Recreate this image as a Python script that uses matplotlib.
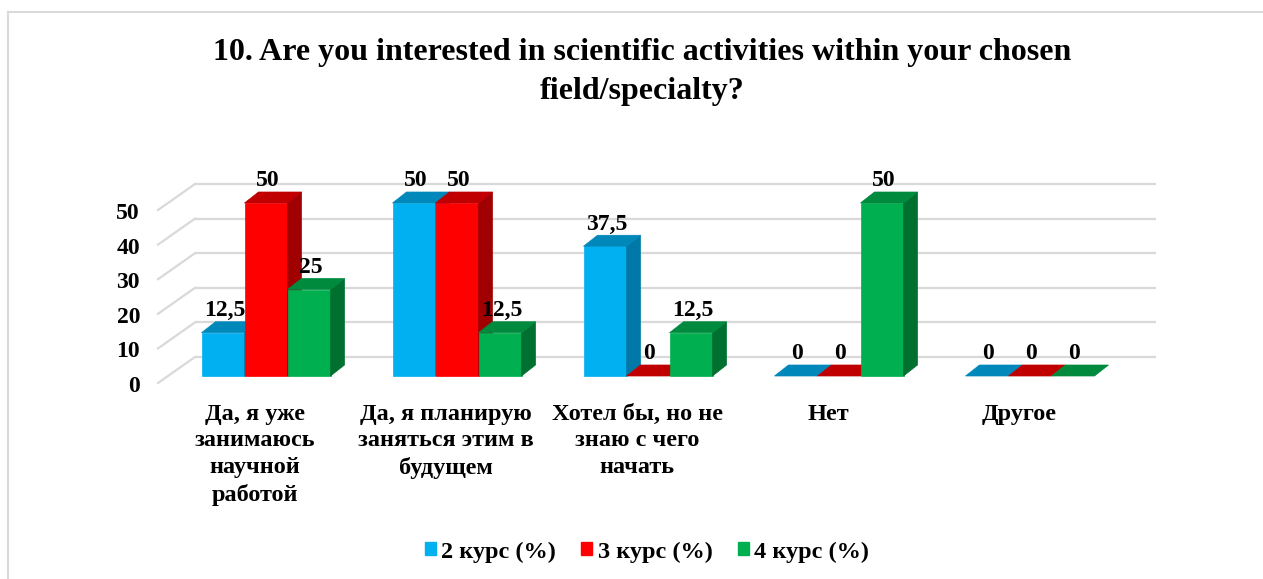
import matplotlib

matplotlib.use("Agg")
import matplotlib.pyplot as plt
from matplotlib.lines import Line2D
from matplotlib.patches import Patch, Polygon

plt.rcParams["font.family"] = ["Liberation Serif", "DejaVu Serif"]
plt.rcParams["font.weight"] = "bold"

TITLE = ("10. Are you interested in scientific activities within your chosen\n"
         "field/specialty?")
categories = [
    "Да, я уже\nзанимаюсь\nнаучной\nработой",
    "Да, я планирую\nзаняться этим в\nбудущем",
    "Хотел бы, но не\nзнаю с чего\nначать",
    "Нет",
    "Другое",
]
series_names = ["2 курс (%)", "3 курс (%)", "4 курс (%)"]
course2 = [12.5, 50, 37.5, 0, 0]
course3 = [50, 50, 0, 0, 0]
course4 = [25, 12.5, 12.5, 50, 0]
yticks = [0, 10, 20, 30, 40, 50]

# front, top, side colours per series
colors = [
    ("#00B0F0", "#0088BB", "#0079A8"),
    ("#FF0000", "#C00000", "#A00000"),
    ("#00B050", "#008A3E", "#007030"),
]

W, H = 1263, 579
PX_X, PX_Y = 191.0, 3.46      # pixels per category / per unit
X0, Y0 = 266.0, 376.0         # pixel of first group centre / zero line

fig = plt.figure(figsize=(W / 100, H / 100), dpi=100)
L, R, T, B = 100, 1200, 150, 400
ax = fig.add_axes([L / W, 1 - B / H, (R - L) / W, (B - T) / H])
ax.set_xlim((L - X0) / PX_X, (R - X0) / PX_X)
ax.set_ylim((Y0 - B) / PX_Y, (Y0 - T) / PX_Y)
ax.axis("off")

bar_w = 43 / PX_X
dx, dy = 14 / PX_X, 11 / PX_Y          # bar depth
floor_front = -7 / PX_Y
wall_back = 19 / PX_Y
diag_x0, diag_x1 = (158 - X0) / PX_X, (195 - X0) / PX_X
wall_right = (1156 - X0) / PX_X

# back wall grid + left floor diagonals
for v in yticks:
    ax.plot([diag_x1, wall_right], [v + wall_back] * 2, color="#d9d9d9",
            lw=1.6, zorder=1, solid_capstyle="butt")
    ax.plot([diag_x0, diag_x1], [v + floor_front, v + wall_back],
            color="#d9d9d9", lw=1.6, zorder=1)
    ax.text((140 - X0) / PX_X, v + floor_front - 1.0, str(v), ha="right",
            va="center", fontsize=17, fontweight="bold")

all_series = [course2, course3, course4]
for i in range(len(categories)):
    for j, vals in enumerate(all_series):
        v = vals[i]
        front, top, side = colors[j]
        x_l = i + (j - 1.5) * bar_w
        x_r = x_l + bar_w
        z = 3 + j
        if v > 0:
            ax.bar(x_l, v, width=bar_w, align="edge", color=front,
                   edgecolor=front, lw=0.5, zorder=z)
            ax.add_patch(Polygon([(x_r, 0), (x_r + dx, dy), (x_r + dx, v + dy),
                                  (x_r, v)], closed=True, facecolor=side,
                                 edgecolor=side, lw=0.5, zorder=z))
        ax.add_patch(Polygon([(x_l, v), (x_r, v), (x_r + dx, v + dy),
                              (x_l + dx, v + dy)], closed=True, facecolor=top,
                             edgecolor=top, lw=0.5, zorder=z))
        label = f"{v:g}".replace(".", ",")
        ax.text((x_l + x_r) / 2 + dx * 0.1, v + dy + 0.2, label, ha="center",
                va="bottom", fontsize=17, fontweight="bold", zorder=10)
    ax.text(i - 11 / PX_X, -28 / PX_Y, categories[i], ha="center", va="top",
            fontsize=17.5, fontweight="bold", linespacing=1.34)

fig.text(642 / W, 1 - 72 / H, TITLE, ha="center", va="center", fontsize=23,
         fontweight="bold", linespacing=1.42)

handles = [Patch(facecolor=c[0], edgecolor=c[0]) for c in colors]
fig.legend(handles, series_names, loc="center", bbox_to_anchor=(647 / W, 1 - 552 / H),
           ncol=3, frameon=False, handlelength=0.45, handleheight=0.45,
           handletextpad=0.22, columnspacing=1.05,
           prop={"weight": "bold", "size": 17.5})

# chart-area border (left and top visible)
fig.add_artist(Line2D([8 / W, 8 / W], [0, 1 - 12 / H], color="#d9d9d9", lw=1.5))
fig.add_artist(Line2D([8 / W, 1], [1 - 12 / H, 1 - 12 / H], color="#d9d9d9", lw=1.5))

fig.savefig("out.png", dpi=100)
